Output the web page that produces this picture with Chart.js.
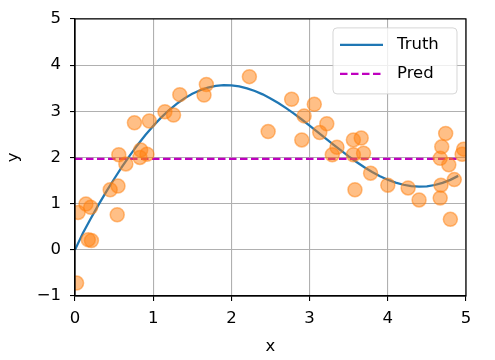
<!DOCTYPE html>
<html lang="en">
<head>
<meta charset="UTF-8">
<script src="https://cdn.jsdelivr.net/npm/chart.js"></script>
<title>Truth vs Pred</title>
<style>
  html, body { margin: 0; padding: 0; background: #fff; }
  #wrap { position: relative; width: 495px; height: 360px; }
</style>
</head>
<body>
<div id="wrap"><canvas id="myChart" width="495" height="360"></canvas></div>
<script>
    // training samples
    const trainX = [0.02, 0.04, 0.14, 0.20, 0.17, 0.21, 0.45, 0.55, 0.54, 0.56,
                    0.65, 0.76, 0.84, 0.83, 0.92, 0.95, 1.15, 1.26, 1.34, 1.65,
                    1.68, 2.23, 2.77, 3.06, 2.93, 2.47, 2.90, 3.22, 3.13, 3.35,
                    3.29, 3.56, 3.66, 3.56, 3.69, 3.58, 3.78, 4.00, 4.26, 4.40,
                    4.74, 4.69, 4.67, 4.78, 4.68, 4.67, 4.85, 4.80, 4.95, 4.97];
    const trainY = [-0.72, 0.81, 0.99, 0.92, 0.22, 0.20, 1.30, 1.38, 0.76, 2.06,
                    1.86, 2.75, 2.16, 2.00, 2.07, 2.79, 2.99, 2.92, 3.36, 3.35,
                    3.58, 3.75, 3.26, 3.15, 2.90, 2.56, 2.38, 2.73, 2.54, 2.22,
                    2.06, 2.38, 2.42, 2.06, 2.09, 1.30, 1.66, 1.40, 1.34, 1.08,
                    2.52, 2.23, 1.98, 1.84, 1.40, 1.12, 1.52, 0.66, 2.07, 2.18];

    // truth curve, x = 0 .. 4.9 step 0.1
    const testX = [0.0, 0.1, 0.2, 0.3, 0.4, 0.5, 0.6, 0.7, 0.8, 0.9,
                   1.0, 1.1, 1.2, 1.3, 1.4, 1.5, 1.6, 1.7, 1.8, 1.9,
                   2.0, 2.1, 2.2, 2.3, 2.4, 2.5, 2.6, 2.7, 2.8, 2.9,
                   3.0, 3.1, 3.2, 3.3, 3.4, 3.5, 3.6, 3.7, 3.8, 3.9,
                   4.0, 4.1, 4.2, 4.3, 4.4, 4.5, 4.6, 4.7, 4.8, 4.9];
    const truthY = [0.000, 0.358, 0.673, 0.973, 1.259, 1.533, 1.794, 2.040, 2.271, 2.486,
                    2.683, 2.862, 3.021, 3.161, 3.280, 3.378, 3.456, 3.512, 3.548, 3.564,
                    3.560, 3.537, 3.496, 3.439, 3.366, 3.278, 3.179, 3.068, 2.949, 2.822,
                    2.690, 2.555, 2.419, 2.284, 2.151, 2.023, 1.901, 1.788, 1.686, 1.595,
                    1.518, 1.455, 1.409, 1.380, 1.368, 1.376, 1.403, 1.449, 1.515, 1.601];

    // prediction (average pooling -> flat)
    const predX = [0.0, 4.9];
    const predY = [1.97, 1.97];

    const xTicks = [0, 1, 2, 3, 4, 5];
    const yTicks = [-1, 0, 1, 2, 3, 4, 5];

    const seriesNames = ['Truth', 'Pred'];

    const font = { family: 'DejaVu Sans', size: 16.5 };

    const pts = (xs, ys) => xs.map((x, i) => ({ x: x, y: ys[i] }));

    // full box round the plot, like matplotlib spines
    const frame = {
        id: 'frame',
        afterDraw(chart) {
            const { ctx, chartArea: a } = chart;
            ctx.save();
            ctx.strokeStyle = '#000';
            ctx.lineWidth = 1.2;
            ctx.strokeRect(a.left, a.top, a.right - a.left, a.bottom - a.top);
            ctx.restore();
        }
    };

    // legend inside the axes, upper right
    const innerLegend = {
        id: 'innerLegend',
        afterDatasetsDraw(chart) {
            const { ctx, chartArea: a } = chart;
            const w = 124, h = 66;
            const x0 = a.right - 9 - w, y0 = a.top + 9;
            ctx.save();
            ctx.beginPath();
            ctx.roundRect(x0, y0, w, h, 4);
            ctx.fillStyle = 'rgba(255,255,255,0.8)';
            ctx.fill();
            ctx.strokeStyle = 'rgba(204,204,204,0.8)';
            ctx.lineWidth = 1;
            ctx.stroke();

            const items = [
                { color: '#1f77b4', dash: [] },
                { color: '#bf00bf', dash: [7.5, 3.5] }
            ];
            ctx.font = '16.5px "DejaVu Sans"';
            ctx.textBaseline = 'middle';
            items.forEach((it, i) => {
                const yy = y0 + 17 + i * 29;
                ctx.beginPath();
                ctx.setLineDash(it.dash);
                ctx.strokeStyle = it.color;
                ctx.lineWidth = 2.25;
                ctx.moveTo(x0 + 7, yy);
                ctx.lineTo(x0 + 50, yy);
                ctx.stroke();
                ctx.setLineDash([]);
                ctx.fillStyle = '#000';
                ctx.fillText(seriesNames[i], x0 + 64, yy);
            });
            ctx.restore();
        }
    };

    const config = {
        type: 'scatter',
        data: {
            datasets: [{
                label: 'train',
                data: pts(trainX, trainY),
                pointRadius: 7,
                borderWidth: 1.5,
                backgroundColor: 'rgba(255,127,14,0.5)',
                borderColor: 'rgba(255,127,14,0.5)',
                order: 0
            }, {
                type: 'line',
                label: seriesNames[0],
                data: pts(testX, truthY),
                borderColor: '#1f77b4',
                borderWidth: 2.25,
                pointRadius: 0,
                fill: false,
                order: 2
            }, {
                type: 'line',
                label: seriesNames[1],
                data: pts(predX, predY),
                borderColor: '#bf00bf',
                borderWidth: 2.25,
                borderDash: [7.5, 3.5],
                pointRadius: 0,
                fill: false,
                order: 1
            }]
        },
        options: {
            responsive: false,
            animation: false,
            layout: { padding: { top: 18, right: 29, left: 0, bottom: 0 } },
            plugins: {
                legend: { display: false },
                tooltip: { enabled: false }
            },
            scales: {
                x: {
                    type: 'linear',
                    min: 0,
                    max: 5,
                    afterBuildTicks: (s) => { s.ticks = xTicks.map(v => ({ value: v })); },
                    afterFit: (s) => { s.height = 64; },
                    ticks: { color: '#000', font: font, padding: 8, maxRotation: 0 },
                    grid: { color: '#b0b0b0', lineWidth: 1.1, tickColor: '#000', tickLength: 5 },
                    border: { color: '#000', width: 1.2 },
                    title: { display: true, text: 'x', color: '#000', font: font, padding: { top: 0, bottom: 3 } }
                },
                y: {
                    type: 'linear',
                    min: -1,
                    max: 5,
                    afterBuildTicks: (s) => { s.ticks = yTicks.map(v => ({ value: v })); },
                    afterFit: (s) => { s.width = 75; },
                    ticks: {
                        color: '#000', font: font, padding: 9,
                        callback: (v) => String(v).replace('-', '\u2212')
                    },
                    grid: { color: '#b0b0b0', lineWidth: 1.1, tickColor: '#000', tickLength: 5 },
                    border: { color: '#000', width: 1.2 },
                    title: { display: true, text: 'y', color: '#000', font: font, padding: { top: 4, bottom: 0 } }
                }
            }
        },
        plugins: [frame, innerLegend]
    };

    const myChart = new Chart(document.getElementById('myChart'), config);
</script>
</body>
</html>
